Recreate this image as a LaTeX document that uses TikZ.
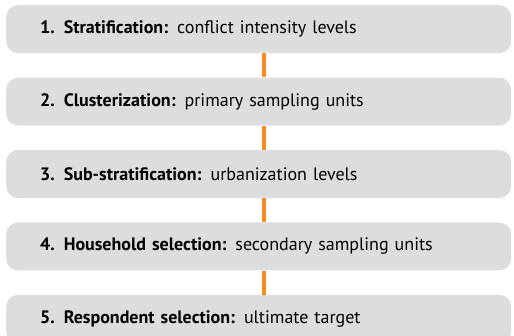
\documentclass[tikz,border=0pt]{standalone}
\usepackage{fontspec}
\setmainfont{PT Sans}
\usetikzlibrary{positioning}
\definecolor{stagegray}{HTML}{DCDDDF}
\definecolor{linkorange}{HTML}{F68B1F}
\begin{document}
\begin{tikzpicture}[x = 1pt, y = 1pt,
        stage/.style = {fill = stagegray, rounded corners = 12pt,
            minimum width = 505pt, minimum height = 48pt,
            inner xsep = 34pt, text width = 437pt, align = left,
            font = \fontsize{18}{20}\selectfont},
        link/.style = {draw = linkorange, line width = 4pt},
        node distance = 24pt]
    \useasboundingbox (0,0) rectangle (514,-336);
    \node[stage, anchor = north west] (strat) at (6,-5) {\textbf{1.\enspace Stratification:} conflict intensity levels};
    \node[stage, below = of strat] (clust) {\textbf{2.\enspace Clusterization:} primary sampling units};
    \node[stage, below = of clust] (substrat) {\textbf{3.\enspace Sub-stratification:} urbanization levels};
    \node[stage, below = of substrat] (house) {\textbf{4.\enspace Household selection:} secondary sampling units};
    \node[stage, below = of house] (resp) {\textbf{5.\enspace Respondent selection:} ultimate target};
    % orange links between the stages
    \foreach \a/\b in {strat/clust, clust/substrat, substrat/house, house/resp}
        \draw[link] ([xshift = 5pt]\a.south) -- ([xshift = 5pt]\b.north);
\end{tikzpicture}
\end{document}
